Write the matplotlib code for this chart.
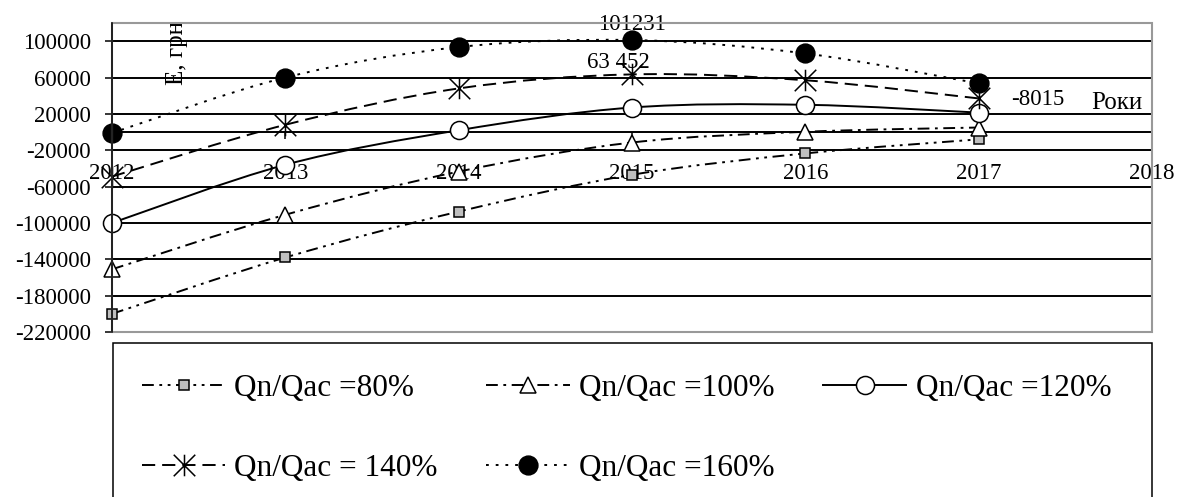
import numpy as np
import matplotlib
matplotlib.use('Agg')
import matplotlib.pyplot as plt
from matplotlib.path import Path
from matplotlib.patches import PathPatch, Rectangle
from matplotlib.lines import Line2D
from matplotlib.ticker import FuncFormatter

plt.rcParams['font.family'] = ['Liberation Serif', 'DejaVu Serif']
plt.rcParams['axes.unicode_minus'] = False
plt.rcParams['lines.scale_dashes'] = False

years = [2012, 2013, 2014, 2015, 2016, 2017]
year_ticks = [2012, 2013, 2014, 2015, 2016, 2017, 2018]
y_ticks = [-220000, -180000, -140000, -100000, -60000, -20000, 20000, 60000, 100000]

# економічний ефект, грн
q80 = [-200000, -138000, -87500, -47000, -23500, -8015]
q100 = [-151000, -91000, -43500, -11500, 300, 5000]
q120 = [-100000, -36000, 2000, 27000, 30000, 21400]
q140 = [-49000, 8000, 48000, 63452, 57000, 37000]
q160 = [-1000, 60000, 93500, 101231, 86500, 53500]

series_labels = ['Qn/Qac =80%', 'Qn/Qac =100%', 'Qn/Qac =120%',
                 'Qn/Qac = 140%', 'Qn/Qac =160%']

styles = [
    dict(ls=(0, (8.5, 4, 2, 4, 2, 4)), marker='s', ms=7.5, mfc='#bfbfbf'),
    dict(ls=(0, (8.5, 4, 2, 4)), marker='^', ms=11.5, mfc='white'),
    dict(ls='-', marker='o', ms=13, mfc='white'),
    dict(ls=(0, (9.5, 5)), marker=None, ms=15.5, mfc='none'),
    dict(ls=(0, (2, 5)), marker='o', ms=13.5, mfc='k'),
]

# зірочка: хрест + вертикальна риска
star = Path([(-1, -1), (1, 1), (-1, 1), (1, -1), (0, -1), (0, 1)],
            [Path.MOVETO, Path.LINETO, Path.MOVETO, Path.LINETO,
             Path.MOVETO, Path.LINETO])
styles[3]['marker'] = star


def smooth_path(x, y):
    # згладжена лінія (кубічні криві Безьє через точки)
    x = np.asarray(x, float)
    y = np.asarray(y, float)
    n = len(x)
    verts = [(x[0], y[0])]
    codes = [Path.MOVETO]
    for i in range(n - 1):
        i0 = max(i - 1, 0)
        i3 = min(i + 2, n - 1)
        c1 = (x[i] + (x[i + 1] - x[i0]) / 6, y[i] + (y[i + 1] - y[i0]) / 6)
        c2 = (x[i + 1] - (x[i3] - x[i]) / 6, y[i + 1] - (y[i3] - y[i]) / 6)
        verts += [c1, c2, (x[i + 1], y[i + 1])]
        codes += [Path.CURVE4] * 3
    return Path(verts, codes)


fig = plt.figure(figsize=(11.78, 4.97), dpi=100)
ax = fig.add_axes([112 / 1178, 1 - 332 / 497, 1040 / 1178, 309 / 497])

all_series = [q80, q100, q120, q140, q160]
handles = []
for vals, st in zip(all_series, styles):
    ax.add_patch(PathPatch(smooth_path(years, vals), fill=False, ec='k',
                           lw=1.4, ls=st['ls'], capstyle='butt', zorder=2))
    ax.plot(years, vals, ls='none', marker=st['marker'], ms=st['ms'],
            mfc=st['mfc'], mec='k', mew=1.1, zorder=3, clip_on=False)
    handles.append(Line2D([], [], color='k', lw=1.4, ls=st['ls'],
                          marker=st['marker'], ms=st['ms'], mfc=st['mfc'],
                          mec='k', mew=1.1))

ax.set_xlim(2012, 2018)
ax.set_ylim(-220000, 120000)
ax.set_xticks(year_ticks)
ax.set_xticklabels([str(y) for y in year_ticks])
ax.set_yticks(y_ticks)
ax.yaxis.set_major_formatter(FuncFormatter(lambda v, p: f"{int(v)}"))

ax.spines['top'].set_visible(False)
ax.spines['right'].set_visible(False)
ax.spines['bottom'].set_position(('data', 0))
ax.spines['bottom'].set_linewidth(1.4)
ax.spines['left'].set_linewidth(1.1)
ax.spines['left'].set_zorder(4)
ax.tick_params(axis='y', direction='out', length=5, width=1.1, pad=10,
               labelsize=16.5)
ax.tick_params(axis='x', direction='out', length=5, width=1.1, pad=17,
               labelsize=16.5)
ax.yaxis.grid(True, color='k', lw=1.4)
ax.set_axisbelow(True)

# сіра рамка області побудови
ax.add_patch(Rectangle((0, 0), 1, 1, transform=ax.transAxes, fill=False,
                       ec='#999999', lw=1.5, zorder=3.5, clip_on=False))

# підписи значень
ax.annotate(f"{q160[3]}", xy=(years[3], q160[3]), xytext=(0, 11),
            textcoords='offset points', ha='center', va='center', fontsize=16.5)
ax.annotate(f"{q140[3]:,}".replace(',', ' '), xy=(years[3], q140[3]),
            xytext=(-10, 8.5), textcoords='offset points',
            ha='center', va='center', fontsize=16.5)
ax.annotate(f"{q80[5]}", xy=(years[5], q80[5]), xytext=(42.5, 28.5),
            textcoords='offset points', ha='center', va='center', fontsize=16.5)

ax.text(0.966, 0.741, 'Роки', transform=ax.transAxes, ha='center',
        va='center', fontsize=18)
ax.text(0.0625, 0.903, 'Е, грн', transform=ax.transAxes, ha='center',
        va='center', rotation=90, fontsize=18)

order = [0, 3, 1, 4, 2]
fig.legend([handles[i] for i in order], [series_labels[i] for i in order],
           loc='upper left', bbox_to_anchor=(142 / 1178, 1 - 374 / 497),
           ncol=3, frameon=False, fontsize=22.5, handlelength=2.66,
           handletextpad=0.3, columnspacing=1.55, labelspacing=1.62,
           borderpad=0, borderaxespad=0)
fig.add_artist(Rectangle((113 / 1178, -0.01), 1039 / 1178, 1 - 343 / 497 + 0.01,
                         transform=fig.transFigure, fill=False, ec='k', lw=1.1))

fig.savefig('out.png', dpi=100)
